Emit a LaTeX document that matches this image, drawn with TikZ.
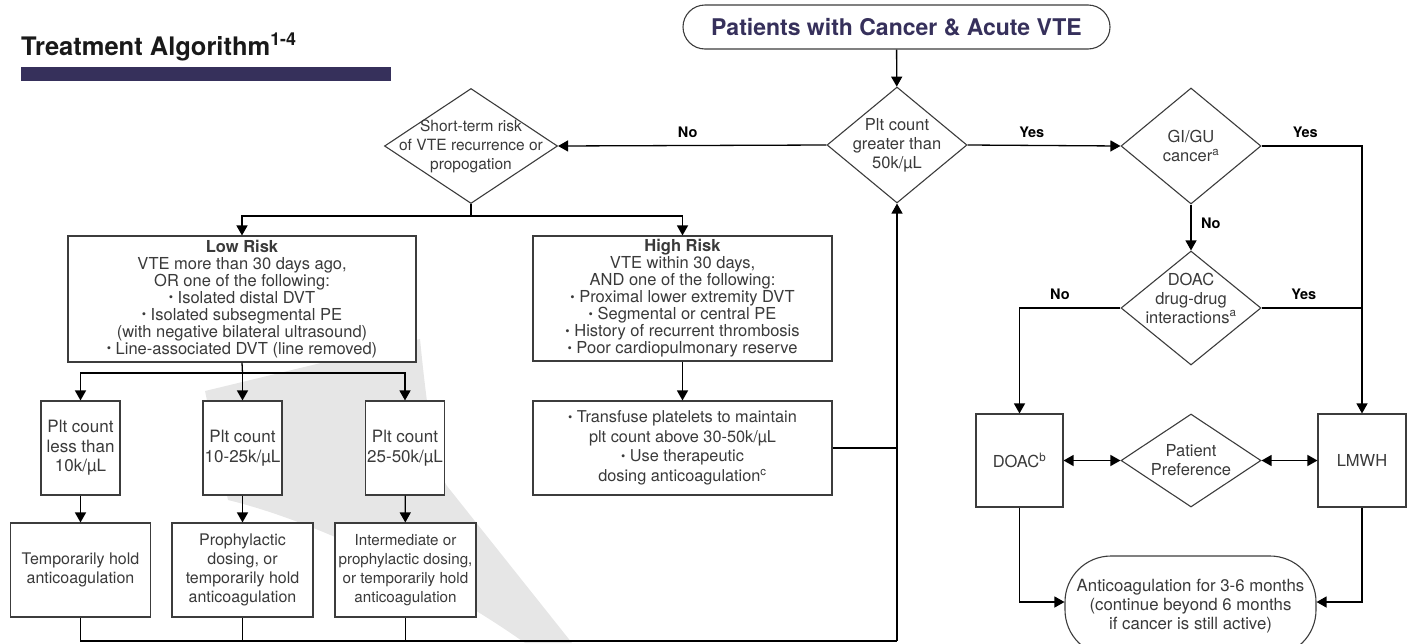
\documentclass[tikz,border=0pt]{standalone}
\usepackage{fontspec}
\setmainfont{TeX Gyre Heros}
\usetikzlibrary{shapes.geometric,arrows.meta,positioning}
\definecolor{navy}{HTML}{36305B}
\definecolor{txtgray}{HTML}{3A3A3A}
\definecolor{linegray}{HTML}{3C3C3C}
\definecolor{swoosh}{HTML}{E6E6E6}
\newcommand{\blt}{\raisebox{.2ex}{\scalebox{.75}{•}}}
\begin{document}
\begin{tikzpicture}[x=1pt,y=-1pt,
  box/.style={draw=linegray, fill=white, line width=1.1pt, inner sep=0pt, align=center, text=txtgray,
    font=\fontsize{17}{19.5}\selectfont},
  riskbox/.style={box, font=\fontsize{16.5}{17}\selectfont},
  dia/.style={diamond, draw=linegray, fill=white, line width=1.1pt, inner sep=0pt},
  diatext/.style={align=center, text=txtgray, font=\fontsize{16.5}{19}\selectfont},
  line/.style={line width=1.3pt},
  conn/.style={line width=1.3pt, -{Triangle[length=10pt,width=11pt]}},
  conn2/.style={line width=1.3pt, {Triangle[length=10pt,width=11pt]}-{Triangle[length=10pt,width=11pt]}},
  lbl/.style={font=\bfseries\fontsize{14.5}{17}\selectfont}]
\useasboundingbox (0,0) rectangle (1410,643);
% Fondo gris
\fill[swoosh] (205,391) -- (420,339) .. controls (428,420) and (436,470) .. (447,486) -- (572,643)
  -- (525,643) .. controls (450,590) and (330,525) .. (228,500) -- cycle;
% Titulo
\node[anchor=base west, inner sep=0pt, font=\bfseries\fontsize{25.5}{30}\selectfont, text=black!90] (title) at (21,55) {Treatment Algorithm\textsuperscript{1-4}};
\fill[navy] (21,67) rectangle (391,81);
% Inicio y primera decision
\node[draw=linegray, line width=1.1pt, rounded corners=22pt, minimum width=427pt, minimum height=44pt,
  text=navy, font=\bfseries\fontsize{23}{26}\selectfont] (start) at (896.5,27) {Patients with Cancer \& Acute VTE};
\node[dia, minimum width=140pt, minimum height=116pt,
  label={[diatext]center:{Plt count\\greater than\\50k/µL}}] (plt) at (897,145) {};
\node[dia, minimum width=173pt, minimum height=115pt,
  label={[diatext, font=\fontsize{15.5}{19}\selectfont]center:{Short-term risk\\of VTE recurrence or\\propogation}}] (risk) at (471,146) {};
% Riesgo bajo y alto
\node[riskbox, minimum width=348pt, minimum height=126pt] (low) at (242,299) {\textbf{Low Risk}\\VTE more than 30 days ago,\\OR one of the following:\\\blt\ Isolated distal DVT\\\blt\ Isolated subsegmental PE\\(with negative bilateral ultrasound)\\\blt\ Line-associated DVT (line removed)};
\node[riskbox, minimum width=299pt, minimum height=125pt] (high) at (682.5,298.5) {\textbf{High Risk}\\VTE within 30 days,\\AND one of the following:\\\blt\ Proximal lower extremity DVT\\\blt\ Segmental or central PE\\\blt\ History of recurrent thrombosis\\\blt\ Poor cardiopulmonary reserve};
\node[box, font=\fontsize{16.3}{19.5}\selectfont, minimum width=299pt, minimum height=94pt] (transf) at (682.5,448) {\blt\ Transfuse platelets to maintain\\plt count above 30-50k/µL\\\blt\ Use therapeutic\\dosing anticoagulation\textsuperscript{c}};
% Conteo de plaquetas (riesgo bajo)
\node[box, minimum width=79pt, minimum height=94pt] (p1) at (80.5,448) {Plt count\\less than\\10k/µL};
\node[box, minimum width=79pt, minimum height=94pt] (p2) at (242.5,448) {Plt count\\10-25k/µL};
\node[box, minimum width=79pt, minimum height=94pt] (p3) at (405,448) {Plt count\\25-50k/µL};
\node[box, font=\fontsize{16}{19}\selectfont, minimum width=140pt, minimum height=94pt] (a1) at (80.5,570) {Temporarily hold\\anticoagulation};
\node[box, font=\fontsize{16}{19}\selectfont, minimum width=141pt, minimum height=94pt] (a2) at (242.5,570) {Prophylactic\\dosing, or\\temporarily hold\\anticoagulation};
\node[box, font=\fontsize{15.2}{19}\selectfont, minimum width=141pt, minimum height=94pt] (a3) at (405.5,570) {Intermediate or\\prophylactic dosing,\\or temporarily hold\\anticoagulation};
% Lado derecho
\node[dia, minimum width=140pt, minimum height=116pt,
  label={[diatext]center:{GI/GU\\cancer\textsuperscript{a}}}] (gigu) at (1191,146) {};
\node[dia, minimum width=140pt, minimum height=114pt,
  label={[diatext, yshift=10pt]center:{DOAC\\drug-drug\\interactions\textsuperscript{a}}}] (ddi) at (1191,308) {};
\node[box, font=\fontsize{16.5}{19}\selectfont, minimum width=87pt, minimum height=93pt] (doac) at (1019.5,460.5) {DOAC\textsuperscript{b}};
\node[dia, minimum width=140pt, minimum height=93pt,
  label={[diatext]center:{Patient\\Preference}}] (pref) at (1191,460.5) {};
\node[box, font=\fontsize{16.5}{19}\selectfont, minimum width=88pt, minimum height=93pt] (lmwh) at (1362,460.5) {LMWH};
\node[box, font=\fontsize{16.8}{19}\selectfont, rounded corners=46pt, minimum width=251pt, minimum height=100pt] (final) at (1190.5,606) {Anticoagulation for 3-6 months\\(continue beyond 6 months\\if cancer is still active)};
% Conectores
\coordinate (split1) at (471,216);
\coordinate (split2) at (242.5,373);
\coordinate (back) at (897,641);
\draw[conn] (start) -- (plt);
\draw[conn] (plt.west) -- (risk.east) node[lbl, above=4pt, pos=0.517] {No};
\draw[conn] (plt.east) -- (gigu.west) node[lbl, above=4pt, pos=0.42] {Yes};
\draw[line] (risk.south) -- (split1);
\draw[conn] (split1) -| (low.north);
\draw[conn] (split1) -| (high.north);
\draw[conn] (high) -- (transf);
\draw[line] (low.south) -- (split2);
\draw[conn] (split2) -| (p1.north);
\draw[conn] (split2) -- (p2.north);
\draw[conn] (split2) -| (p3.north);
\draw[conn] (p1) -- (a1);
\draw[conn] (p2) -- (a2);
\draw[conn] (p3) -- (a3);
\draw[line] (a1.south) |- (back);
\draw[line] (a2.south) -- (a2.south |- back);
\draw[line] (a3.south) -- (a3.south |- back);
\draw[conn] (back) -- (plt.south);
\draw[line] (transf.east) -- (transf.east -| back);
\draw[conn] (gigu.east) -| (lmwh.north) node[lbl, above=4pt, pos=0.218] {Yes};
\draw[conn] (gigu.south) -- (ddi.north) node[lbl, right=6pt, pos=0.4] {No};
\draw[line] (ddi.east) -- (ddi.east -| lmwh.north) node[lbl, above=4pt, pos=0.42] {Yes};
\draw[conn] (ddi.west) -| (doac.north) node[lbl, above=4pt, pos=0.3] {No};
\draw[conn2] (doac.east) -- (pref.west);
\draw[conn2] (pref.east) -- (lmwh.west);
\draw[conn] (doac.south) |- ([yshift=4pt]final.west);
\draw[conn] (lmwh.south) |- ([yshift=4pt]final.east);
\end{tikzpicture}
\end{document}
